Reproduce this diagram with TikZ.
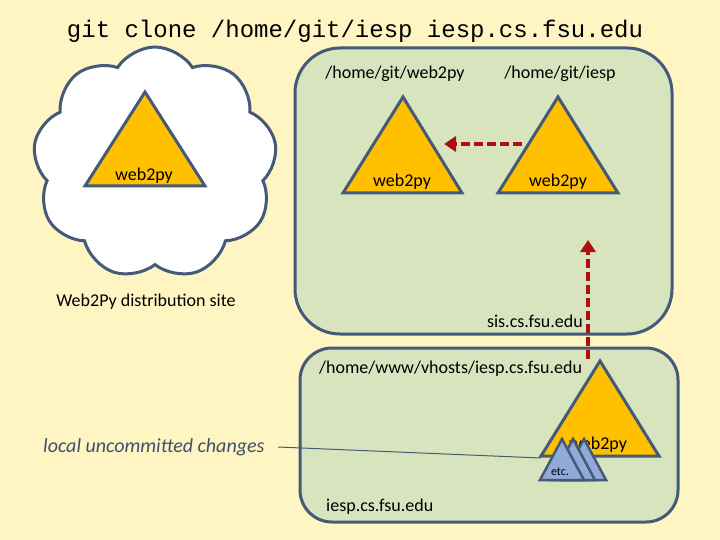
\documentclass[tikz,border=0pt]{standalone}
\usepackage{fontspec}
\setmainfont{Carlito}
\newfontfamily\titlefont{Liberation Mono}
\usetikzlibrary{shapes.symbols,arrows.meta}
\definecolor{bgc}{RGB}{255,245,195}
\definecolor{slate}{RGB}{68,90,120}
\definecolor{boxg}{RGB}{216,228,190}
\definecolor{gold}{RGB}{255,192,0}
\definecolor{blu}{RGB}{145,170,215}
\definecolor{dred}{RGB}{175,15,15}
\tikzset{
  tri/.style={draw=slate,fill=gold,line width=3pt,line join=miter},
  smalltri/.style={draw=slate,fill=blu,line width=2.5pt,line join=miter},
  server/.style={draw=slate,fill=boxg,line width=3pt},
  lbl/.style={font=\fontsize{18}{21}\selectfont,inner sep=0pt,text=black},
  flow/.style={draw=dred,line width=3.5pt,dash pattern=on 9pt off 4pt,-{Triangle[length=12pt,width=15pt]}}
}
\begin{document}
\begin{tikzpicture}[x=1pt,y=-1pt]
\fill[bgc] (0,0) rectangle (720,540);
\useasboundingbox (0,0) rectangle (720,540);
\node[font=\titlefont\fontsize{24}{28}\selectfont,inner sep=0pt] (title) at (355,31) {git clone /home/git/iesp iesp.cs.fsu.edu};
% cloud
\node[cloud,cloud puffs=9,cloud puff arc=115,aspect=1.05,draw=slate,fill=white,line width=3pt,minimum width=244pt,minimum height=232pt,inner sep=0pt] (cloud) at (155,163) {};
\draw[tri] (145,92) -- (205,186) -- (85,186) -- cycle;
\node[lbl] (w0) at (144,176) {web2py};
\node[lbl] (distsite) at (146,302) {Web2Py distribution site};
% upper server
\draw[server,rounded corners=45pt] (295,48) rectangle (672,334);
\node[lbl] (pweb) at (395,74) {/home/git/web2py};
\node[lbl] (piesp) at (560,74) {/home/git/iesp};
\draw[tri] (403,97) -- (462,193) -- (343,193) -- cycle;
\node[lbl] (w1) at (402,182) {web2py};
\draw[tri] (558,97) -- (618,193) -- (498,193) -- cycle;
\node[lbl] (w2) at (558,182) {web2py};
\node[lbl,anchor=east] (sis) at (583,321) {sis.cs.fsu.edu};
% lower server
\draw[server,rounded corners=32pt] (300,348) rectangle (678,522);
\node[lbl,anchor=west] (pwww) at (319,369) {/home/www/vhosts/iesp.cs.fsu.edu};
\node[lbl,anchor=west] (iesphost) at (326,507) {iesp.cs.fsu.edu};
\draw[tri] (600,361) -- (659,456) -- (541,456) -- cycle;
\node[lbl] (w3) at (598,445) {web2py};
\draw[smalltri] (584,439) -- (606,480) -- (562,480) -- cycle;
\draw[smalltri] (573,439) -- (595,480) -- (551,480) -- cycle;
\draw[smalltri] (562,439) -- (584,480) -- (540,480) -- cycle;
\node[font=\fontsize{12}{14}\selectfont,inner sep=0pt] (etc) at (560,472) {etc.};
% connectors
\coordinate (a1) at (522,144);
\coordinate (a2) at (444,144);
\draw[flow] (a1) -- (a2);
\coordinate (b1) at (588,359);
\coordinate (b2) at (588,240);
\draw[flow] (b1) -- (b2);
\node[lbl,font=\itshape\fontsize{20}{24}\selectfont,text=slate!90!black,anchor=west] (luc) at (43,447) {local uncommitted changes};
\coordinate (lucend) at (541,458);
\draw[slate,line width=1pt] (278,447) -- (lucend);
\end{tikzpicture}
\end{document}
